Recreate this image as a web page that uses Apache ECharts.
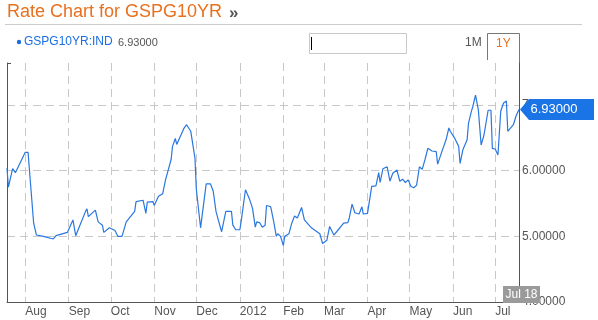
<!DOCTYPE html>
<html><head><meta charset="utf-8">
<script src="https://cdn.jsdelivr.net/npm/echarts@6/dist/echarts.min.js"></script>
<style>html,body{margin:0;padding:0;background:#fff}#c{width:598px;height:320px}</style>
</head><body><div id="c"></div>
<script>
const titleText = 'Rate Chart for GSPG10YR';
const seriesName = 'GSPG10YR:IND';
const lastValueText = '6.93000';
const endDateText = 'Jul 18';
const rangeButtons = ['1M', '1Y'];
const monthNames = ['Jan','Feb','Mar','Apr','May','Jun','Jul','Aug','Sep','Oct','Nov','Dec'];
const xMin = '2011-07-19';
const xMax = '2012-07-18';
const yMin = 4;
const yMax = 7.64;

const dates = [
'2011-07-19','2011-07-20','2011-07-23','2011-07-25','2011-08-01','2011-08-03','2011-08-07','2011-08-09','2011-08-14','2011-08-21',
'2011-08-23','2011-08-31','2011-09-04','2011-09-06','2011-09-09','2011-09-13','2011-09-14','2011-09-15','2011-09-20','2011-09-22',
'2011-09-25','2011-09-26','2011-09-30','2011-10-04','2011-10-06','2011-10-09','2011-10-12','2011-10-18','2011-10-19','2011-10-24',
'2011-10-26','2011-10-27','2011-10-31','2011-11-01','2011-11-04','2011-11-07','2011-11-09','2011-11-10','2011-11-13','2011-11-14',
'2011-11-16','2011-11-17','2011-11-22','2011-11-24','2011-11-27','2011-11-30','2011-12-01','2011-12-04','2011-12-08','2011-12-09',
'2011-12-11','2011-12-13','2011-12-15','2011-12-17','2011-12-19','2011-12-22','2011-12-26','2011-12-27','2011-12-29','2012-01-01',
'2012-01-02','2012-01-05','2012-01-08','2012-01-10','2012-01-12','2012-01-13','2012-01-15','2012-01-17','2012-01-19','2012-01-20',
'2012-01-23','2012-01-25','2012-01-27','2012-01-28','2012-01-30','2012-02-01','2012-02-02','2012-02-05','2012-02-07','2012-02-09',
'2012-02-11','2012-02-12','2012-02-14','2012-02-16','2012-02-21','2012-02-25','2012-02-27','2012-02-28','2012-02-29','2012-03-03',
'2012-03-04','2012-03-05','2012-03-08','2012-03-10','2012-03-15','2012-03-18','2012-03-19','2012-03-21','2012-03-23','2012-03-26',
'2012-03-27','2012-03-28','2012-03-29','2012-04-01','2012-04-04','2012-04-07','2012-04-09','2012-04-10','2012-04-12','2012-04-15',
'2012-04-17','2012-04-19','2012-04-22','2012-04-24','2012-04-26','2012-04-28','2012-04-30','2012-05-02','2012-05-04','2012-05-06',
'2012-05-08','2012-05-10','2012-05-12','2012-05-14','2012-05-17','2012-05-20','2012-05-21','2012-05-24','2012-05-27','2012-05-29',
'2012-05-30','2012-06-02','2012-06-05','2012-06-06','2012-06-08','2012-06-11','2012-06-12','2012-06-14','2012-06-15','2012-06-17',
'2012-06-19','2012-06-21','2012-06-23','2012-06-26','2012-06-28','2012-06-29','2012-07-01','2012-07-03','2012-07-05','2012-07-07',
'2012-07-09','2012-07-10','2012-07-14','2012-07-16','2012-07-18'
];
const rates = [
6.04,5.75,6.03,5.97,6.28,6.28,5.20,5.02,5.00,4.96,
5.01,5.06,5.25,5.01,5.17,5.38,5.42,5.30,5.40,5.22,
5.17,5.06,5.13,5.09,5.00,5.00,5.22,5.38,5.53,5.55,
5.35,5.52,5.53,5.47,5.61,5.65,5.86,5.89,6.17,6.37,
6.49,6.40,6.64,6.70,6.60,6.19,5.71,5.13,5.80,5.77,
5.80,5.69,5.38,5.22,5.07,5.38,5.38,5.17,5.10,5.10,
5.24,5.71,5.56,5.43,5.14,5.22,5.21,5.14,5.17,5.47,
5.45,5.24,5.00,5.04,5.00,4.86,5.00,5.04,5.20,5.31,
5.28,5.30,5.44,5.25,5.13,5.07,5.04,5.02,4.89,4.94,
4.97,5.15,5.02,5.07,5.20,5.21,5.28,5.49,5.36,5.34,
5.36,5.45,5.34,5.35,5.76,5.77,5.97,5.82,6.03,6.06,
5.84,5.96,6.01,5.84,5.87,5.82,5.86,5.76,5.74,5.78,
6.06,6.02,6.17,6.34,6.30,6.29,6.10,6.29,6.47,6.65,
6.60,6.50,6.37,6.11,6.32,6.47,6.72,6.90,6.97,7.15,
6.93,6.39,6.54,6.92,6.92,6.34,6.33,6.24,6.91,7.03,
7.06,6.60,6.70,6.84,6.93
];

const FONT = '"Liberation Sans", Arial, sans-serif';
const BLUE = '#2a77e0';
const ORANGE = '#e8701e';
const GRID_C = '#c8c8c8';
const AXIS_C = '#555555';

const chart = echarts.init(document.getElementById('c'), null, {renderer: 'canvas'});
const lastIdx = dates.length - 1;

chart.setOption({
  animation: false,
  backgroundColor: '#fff',
  textStyle: {fontFamily: FONT},
  grid: {left: 7, right: 79, top: 63, bottom: 18, containLabel: false},
  xAxis: {
    type: 'time',
    min: xMin,
    max: xMax,
    minInterval: 28 * 86400000,
    maxInterval: 31 * 86400000,
    splitNumber: 12,
    axisLine: {show: true, lineStyle: {color: AXIS_C, width: 1}},
    axisTick: {show: false},
    axisLabel: {
      color: AXIS_C, fontSize: 12, fontFamily: FONT, align: 'left', margin: 4,
      showMinLabel: false, showMaxLabel: false,
      formatter: function (v) {
        const d = new Date(v);
        return d.getMonth() === 0 ? String(d.getFullYear()) : monthNames[d.getMonth()];
      }
    },
    splitLine: {show: true, lineStyle: {color: GRID_C, type: [8, 5], width: 1}}
  },
  yAxis: [{
    type: 'value',
    position: 'right',
    min: yMin, max: yMax, interval: 1,
    axisLine: {show: true, lineStyle: {color: AXIS_C, width: 1}},
    axisTick: {show: false},
    axisLabel: {
      color: AXIS_C, fontSize: 12, fontFamily: FONT, margin: 3, showMaxLabel: false,
      formatter: v => v.toFixed(5)
    },
    splitLine: {show: true, showMaxLine: false, lineStyle: {color: GRID_C, type: [8, 5], width: 1}}
  }, {
    type: 'value',
    position: 'left',
    min: yMin, max: yMax,
    axisLine: {show: true, lineStyle: {color: AXIS_C, width: 1}},
    axisTick: {show: false},
    axisLabel: {show: false},
    splitLine: {show: false}
  }],
  series: [{
    type: 'line',
    name: seriesName,
    data: dates.map((d, i) => [d, rates[i]]),
    showSymbol: false,
    symbol: 'none',
    lineStyle: {color: BLUE, width: 1.2},
    itemStyle: {color: BLUE},
    z: 3,
    markPoint: {
      silent: true,
      data: [{
        coord: [dates[lastIdx], rates[lastIdx]],
        symbol: 'path://M0,10.5 L9,0 L74,0 L74,21 L9,21 Z',
        symbolSize: [74, 21],
        symbolOffset: [38, 0],
        itemStyle: {color: '#1a74e6'},
        label: {show: true, position: 'inside', offset: [-3, 0], formatter: lastValueText, color: '#fff', fontSize: 13, fontFamily: FONT}
      }, {
        coord: [dates[lastIdx], yMin],
        symbol: 'rect',
        symbolSize: [37, 17],
        symbolOffset: [2.5, -7.5],
        itemStyle: {color: '#9a9a9a'},
        label: {show: true, position: 'inside', formatter: endDateText, color: '#fff', fontSize: 12, fontFamily: FONT}
      }]
    }
  }],
  graphic: [
    {type: 'text', left: 7, top: 3, style: {text: titleText, fill: ORANGE, font: '18px ' + FONT}},
    {type: 'text', left: 229, top: 5, style: {text: '\u00bb', fill: '#555', font: 'bold 17px ' + FONT}},
    {type: 'line', shape: {x1: 5, y1: 24.5, x2: 582, y2: 24.5}, style: {stroke: '#cccccc', lineWidth: 1}},
    {type: 'circle', shape: {cx: 19, cy: 42, r: 2.2}, style: {fill: '#1a6fe0'}},
    {type: 'text', left: 24, top: 36, style: {text: seriesName, fill: '#1a6fe0', font: '12px ' + FONT}},
    {type: 'text', left: 118, top: 37, style: {text: lastValueText, fill: '#555', font: '11px ' + FONT}},
    {type: 'rect', shape: {x: 309.5, y: 33.5, width: 97, height: 20}, style: {fill: '#fff', stroke: '#c8c8c8', lineWidth: 1}},
    {type: 'line', shape: {x1: 311.5, y1: 37, x2: 311.5, y2: 50}, style: {stroke: '#000', lineWidth: 1}},
    {type: 'text', left: 465, top: 37, style: {text: rangeButtons[0], fill: '#555', font: '12px ' + FONT}},
    {type: 'polyline', shape: {points: [[487.5, 60], [487.5, 33.5], [519.5, 33.5], [519.5, 63]]}, style: {fill: null, stroke: '#777', lineWidth: 1}},
    {type: 'text', left: 496, top: 38, style: {text: rangeButtons[1], fill: ORANGE, font: '12px ' + FONT}},
    {type: 'line', shape: {x1: 7.5, y1: 63.5, x2: 11, y2: 63.5}, style: {stroke: AXIS_C, lineWidth: 1}}
  ]
});
</script></body></html>
